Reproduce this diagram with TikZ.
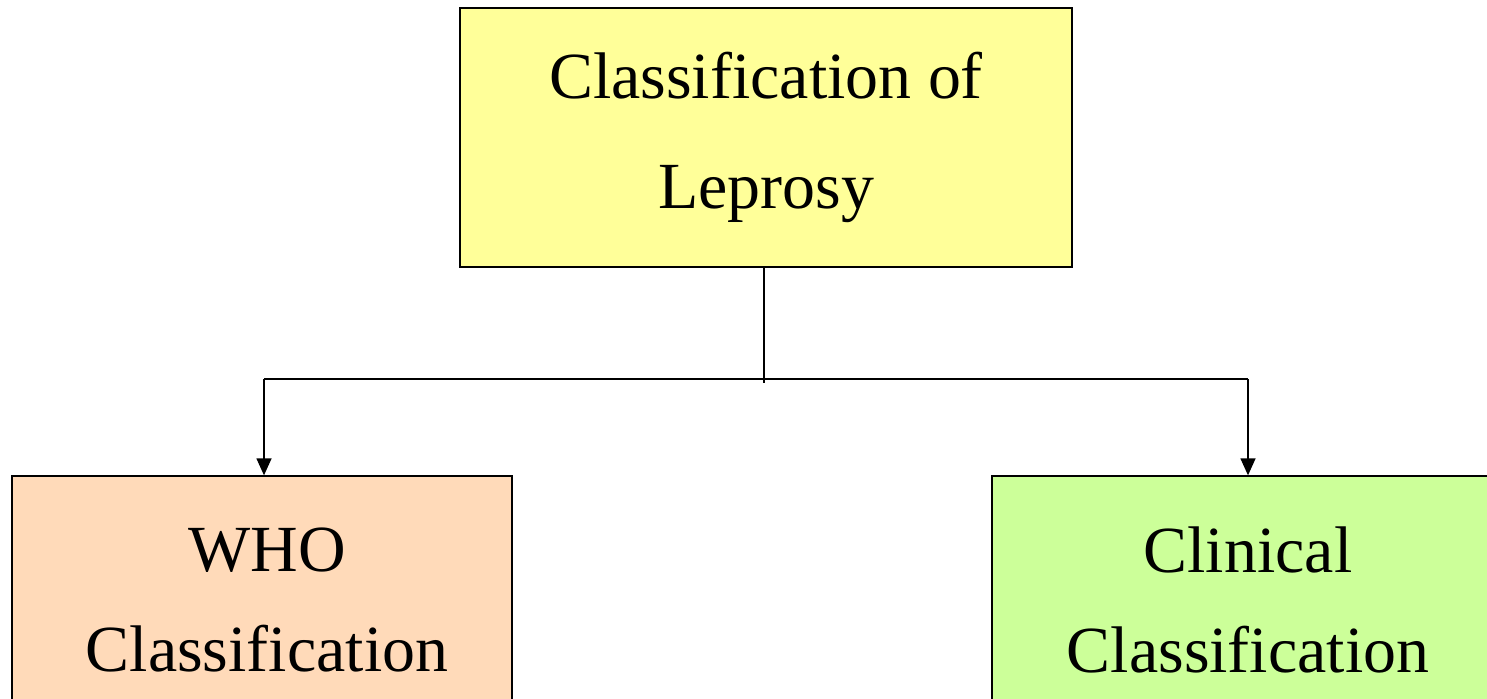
\documentclass[tikz,border=0pt]{standalone}
\usepackage{fontspec}
\setmainfont{Liberation Serif}
\usetikzlibrary{arrows.meta}
\definecolor{topyellow}{RGB}{255,255,153}
\definecolor{whopeach}{RGB}{255,218,185}
\definecolor{clingreen}{RGB}{204,255,153}
\tikzset{
  box/.style={draw, line width=0.8pt, inner sep=0pt, align=center},
  tip/.style={-{Triangle[width=0.3cm,length=0.34cm]}}
}
\begin{document}
\begin{tikzpicture}[x=0.02cm, y=-0.02cm]
        \clip (0,0) rectangle (1487,698);

        \node[box, fill=topyellow, minimum width=12.24cm, minimum height=5.18cm,
              font=\fontsize{37.5}{62.6}\selectfont] (leprosy) at (766,137.5)
              {Classification of\\Leprosy};
        \node[box, fill=whopeach, minimum width=10cm, minimum height=4.96cm,
              font=\fontsize{37.5}{57}\selectfont] (who) at (262,600)
              {\hspace*{0.2cm}WHO\\\hspace*{0.2cm}Classification};
        \node[box, fill=clingreen, minimum width=10.24cm, minimum height=4.96cm,
              font=\fontsize{37.5}{57}\selectfont] (clinical) at (1248,600)
              {Clinical\\Classification};

        \coordinate (drop) at (764,383);
        \coordinate (barL) at (264,379);
        \coordinate (barR) at (1248,379);

        \draw[line width=0.8pt] (leprosy.south -| drop) -- (drop);
        \draw[line width=0.8pt, tip] (barL) -- (barL |- who.north);
        \draw[line width=0.8pt] (barL) -- (barR);
        \draw[line width=0.8pt, tip] (barR) -- (barR |- clinical.north);
\end{tikzpicture}
\end{document}
